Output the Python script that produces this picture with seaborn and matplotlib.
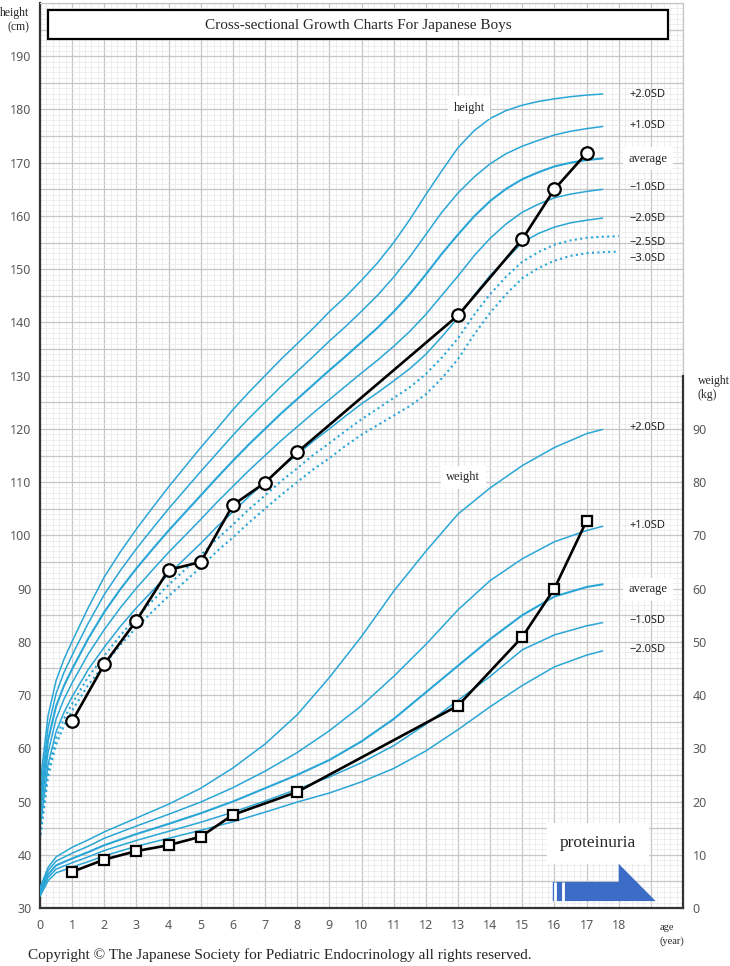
import numpy as np
import pandas as pd
import seaborn as sns
import matplotlib.pyplot as plt
from matplotlib.patches import Polygon, Rectangle
from matplotlib.ticker import FuncFormatter

sns.set_style("white")
plt.rcParams["font.family"] = ["Noto Sans", "DejaVu Sans"]

SERIF = ["Liberation Serif", "DejaVu Serif"]
CURVE = "#2aa6d6"

# reference curves - height (cm)
h_age = [0, 0.25, 0.5, 0.75, 1, 1.5, 2, 2.5, 3, 3.5, 4, 4.5, 5, 5.5, 6, 6.5, 7, 7.5, 8, 8.5,
         9, 9.5, 10, 10.5, 11, 11.5, 12, 12.5, 13, 13.5, 14, 14.5, 15, 15.5, 16, 16.5, 17, 17.5]
h_p2 = [53.2, 66.1, 72.7, 76.8, 80.1, 86.4, 92.2, 96.9, 101.2, 105.2, 109.1, 112.8, 116.5, 120.0,
        123.6, 126.9, 130.0, 133.1, 136.0, 138.9, 142.0, 144.8, 147.9, 151.2, 155.0, 159.3, 164.0,
        168.5, 172.8, 176.0, 178.3, 179.8, 180.8, 181.5, 182.0, 182.4, 182.7, 182.9]
h_p1 = [51.1, 63.8, 70.3, 74.3, 77.5, 83.5, 88.9, 93.4, 97.5, 101.3, 105.0, 108.5, 112.0, 115.4,
        118.8, 122.0, 125.0, 128.0, 130.8, 133.6, 136.5, 139.2, 142.1, 145.1, 148.5, 152.3, 156.5,
        160.7, 164.3, 167.3, 169.8, 171.7, 173.1, 174.2, 175.2, 175.9, 176.4, 176.8]
h_avg = [49.0, 61.5, 67.9, 71.8, 74.9, 80.6, 85.6, 89.9, 93.8, 97.4, 100.9, 104.2, 107.5, 110.8,
         114.0, 117.1, 120.0, 122.9, 125.6, 128.3, 131.0, 133.6, 136.3, 139.0, 142.0, 145.3, 149.0,
         152.9, 156.5, 159.9, 162.8, 165.1, 166.9, 168.2, 169.3, 170.0, 170.5, 170.8]
h_m1 = [46.9, 59.2, 65.5, 69.3, 72.3, 77.7, 82.3, 86.4, 90.1, 93.5, 96.8, 99.9, 103.0, 106.2,
        109.2, 112.2, 115.0, 117.8, 120.4, 123.0, 125.5, 128.0, 130.5, 132.9, 135.5, 138.3, 141.5,
        145.1, 148.7, 152.5, 155.8, 158.5, 160.7, 162.2, 163.4, 164.1, 164.6, 165.0]
h_m2 = [44.8, 56.9, 63.1, 66.8, 69.7, 74.8, 79.0, 82.9, 86.4, 89.6, 92.7, 95.6, 98.5, 101.6,
        104.4, 107.3, 110.0, 112.7, 115.2, 117.7, 120.0, 122.4, 124.7, 126.8, 129.0, 131.3, 134.0,
        137.3, 140.9, 145.1, 148.8, 151.9, 155.0, 156.7, 157.9, 158.7, 159.2, 159.6]

h_age_d = h_age + [18]
h_m25 = [43.8, 55.8, 61.9, 65.6, 68.4, 73.4, 77.4, 81.2, 84.6, 87.7, 90.7, 93.5, 96.3, 99.3,
         102.0, 104.9, 107.5, 110.2, 112.6, 115.1, 117.3, 119.6, 121.8, 123.8, 125.8, 127.8, 130.3,
         133.4, 137.0, 141.4, 145.3, 148.6, 151.4, 153.2, 154.6, 155.4, 155.9, 156.1, 156.2]
h_m3 = [42.7, 54.6, 60.7, 64.3, 67.1, 71.9, 75.7, 79.4, 82.7, 85.7, 88.6, 91.3, 94.0, 97.0,
        99.6, 102.4, 105.0, 107.6, 110.0, 112.4, 114.5, 116.8, 118.9, 120.7, 122.5, 124.3, 126.5,
        129.5, 133.1, 137.7, 141.8, 145.3, 148.3, 150.2, 151.6, 152.5, 153.0, 153.2, 153.3]

# reference curves - weight (kg)
w_age = [0, 0.25, 0.5, 1, 1.5, 2, 3, 4, 5, 6, 7, 8, 9, 10, 11, 12, 13, 14, 15, 16, 17, 17.5]
w_p2 = [3.8, 7.6, 9.6, 11.4, 12.8, 14.3, 16.9, 19.5, 22.5, 26.3, 30.8, 36.3, 43.3, 51.0, 59.5,
        67.0, 74.0, 78.9, 83.1, 86.5, 89.1, 89.9]
w_p1 = [3.4, 7.0, 8.8, 10.3, 11.6, 13.1, 15.4, 17.6, 19.9, 22.6, 25.7, 29.2, 33.3, 38.0, 43.5,
        49.5, 56.0, 61.5, 65.6, 68.8, 70.9, 71.7]
w_avg = [3.0, 6.3, 8.0, 9.3, 10.5, 11.8, 13.9, 15.8, 17.8, 20.0, 22.5, 25.0, 27.8, 31.3, 35.5,
         40.5, 45.5, 50.5, 55.0, 58.5, 60.3, 60.8]
w_m1 = [2.6, 5.7, 7.3, 8.5, 9.6, 10.8, 12.7, 14.4, 16.1, 18.0, 20.1, 22.3, 24.6, 27.3, 30.5,
        34.5, 39.0, 43.5, 48.5, 51.3, 53.0, 53.6]
w_m2 = [2.2, 5.1, 6.6, 7.7, 8.7, 9.8, 11.6, 13.1, 14.6, 16.2, 18.0, 19.9, 21.6, 23.7, 26.2,
        29.5, 33.5, 37.8, 41.8, 45.3, 47.5, 48.3]

# patient measurements
pt_age = [1, 2, 3, 4, 5, 6, 7, 8, 13, 15, 16, 17]
pt_height = [65.1, 75.8, 84.0, 93.5, 95.0, 105.7, 109.9, 115.6, 141.3, 155.6, 165.0, 171.8]
pt_weight = [6.8, 9.1, 10.7, 11.8, 13.4, 17.5, 21.8, 38.0, 50.9, 60.0, 72.7]
pt_w_age = [1, 2, 3, 4, 5, 6, 8, 13, 15, 16, 17]

h_labels = ["+2.0SD", "+1.0SD", "average", "\u22121.0SD", "\u22122.0SD", "\u22122.5SD", "\u22123.0SD"]
h_label_y = [182.9, 176.9, 170.7, 165.3, 159.6, 155.1, 152.0]
w_labels = ["+2.0SD", "+1.0SD", "average", "\u22121.0SD", "\u22122.0SD"]
w_label_y = [90.2, 71.9, 59.9, 54.0, 48.6]

fig = plt.figure(figsize=(7.3, 9.66), dpi=100)
ax = fig.add_axes([40 / 730, 1 - 908 / 966, 643 / 730, 905 / 966])
ax2 = ax.twinx()

ax.set_xlim(0, 20)
ax.set_ylim(30, 200)
ax2.set_ylim(0, 170)

# grid
ax.set_axisbelow(True)
ax.set_xticks(np.arange(0, 21, 1))
ax.set_xticks(np.arange(0, 20.01, 0.2), minor=True)
ax.set_yticks(np.arange(30, 201, 5))
ax.set_yticks(np.arange(30, 201, 1), minor=True)
ax.grid(which="major", color="#c6c6c6", lw=0.9)
ax.grid(which="minor", color="#e7e7e7", lw=0.5)
ax.xaxis.set_major_formatter(FuncFormatter(lambda v, p: f"{int(v)}" if v <= 18 else ""))
ax.yaxis.set_major_formatter(FuncFormatter(lambda v, p: f"{int(v)}" if v % 10 == 0 and v < 200 else ""))
ax.tick_params(which="both", length=0, labelsize=9, labelcolor="#5a5a5a", pad=6)
ax.tick_params(axis="x", pad=8)

for s in ["top", "right"]:
    ax.spines[s].set_color("#c6c6c6")
    ax.spines[s].set_linewidth(0.9)
for s in ["left", "bottom"]:
    ax.spines[s].set_color("#333333")
    ax.spines[s].set_linewidth(1.6)

ax2.set_yticks(np.arange(0, 91, 10))
ax2.tick_params(length=0, labelsize=9, labelcolor="#5a5a5a", pad=7)
for s in ["top", "left", "bottom"]:
    ax2.spines[s].set_visible(False)
ax2.spines["right"].set_bounds(0, 100)
ax2.spines["right"].set_color("#333333")
ax2.spines["right"].set_linewidth(1.6)

# height curves
for vals, lw in [(h_p2, 1.1), (h_p1, 1.1), (h_avg, 1.5), (h_m1, 1.1), (h_m2, 1.1)]:
    sns.lineplot(x=h_age, y=vals, ax=ax, color=CURVE, lw=lw)
for vals in [h_m25, h_m3]:
    sns.lineplot(x=h_age_d, y=vals, ax=ax, color=CURVE, lw=1.5, linestyle=(0, (1, 1.6)))

# weight curves
for vals, lw in [(w_p2, 1.1), (w_p1, 1.1), (w_avg, 1.5), (w_m1, 1.1), (w_m2, 1.1)]:
    sns.lineplot(x=w_age, y=vals, ax=ax2, color=CURVE, lw=lw)

# patient
sns.lineplot(x=pt_age, y=pt_height, ax=ax, color="black", lw=1.9, marker="o", markersize=9,
             markerfacecolor="white", markeredgecolor="black", markeredgewidth=1.6, zorder=5)
sns.lineplot(x=pt_w_age, y=pt_weight, ax=ax2, color="black", lw=1.9, marker="s", markersize=7.5,
             markerfacecolor="white", markeredgecolor="black", markeredgewidth=1.6, zorder=5)

# SD labels
for lab, y in zip(h_labels, h_label_y):
    if lab == "average":
        ax.text(18.9, y, lab, ha="center", va="center", fontsize=9, family=SERIF, color="#222222",
                bbox=dict(facecolor="white", edgecolor="none", pad=4))
    else:
        ax.text(18.9, y, lab, ha="center", va="center", fontsize=8, color="#222222")
for lab, y in zip(w_labels, w_label_y):
    if lab == "average":
        ax2.text(18.9, y, lab, ha="center", va="center", fontsize=9, family=SERIF, color="#222222",
                 bbox=dict(facecolor="white", edgecolor="none", pad=4))
    else:
        ax2.text(18.9, y, lab, ha="center", va="center", fontsize=8, color="#222222")

ax.text(13.35, 180.3, "height", ha="center", va="center", fontsize=9, family=SERIF,
        bbox=dict(facecolor="white", edgecolor="none", pad=4))
ax2.text(13.16, 80.9, "weight", ha="center", va="center", fontsize=9, family=SERIF,
         bbox=dict(facecolor="white", edgecolor="none", pad=4))

# proteinuria arrow
arrow = Polygon([(15.95, 1.3), (19.15, 1.3), (18.0, 8.3), (18.0, 4.9), (15.95, 4.9)],
                closed=True, facecolor="#3d6cc6", edgecolor="none", zorder=4)
ax2.add_patch(arrow)
ax2.vlines([16.02, 16.27], 1.3, 4.9, color="white", lw=2, zorder=4.5)
ax2.text(17.36, 12.2, "proteinuria", ha="center", va="center", fontsize=12.5, family=SERIF,
         bbox=dict(facecolor="white", edgecolor="none", pad=9), zorder=4)

# title box
fig.patches.append(Rectangle((48 / 730, 1 - 39 / 966), 620 / 730, 29 / 966, transform=fig.transFigure,
                             facecolor="white", edgecolor="black", lw=1.6, zorder=3))
fig.text(358 / 730, 1 - 25 / 966, "Cross-sectional Growth Charts For Japanese Boys", ha="center",
         va="center", fontsize=11, family=SERIF, zorder=4)

# axis captions
fig.text(15 / 730, 1 - 13 / 966, "height", ha="center", va="center", fontsize=8.5, family=SERIF)
fig.text(18 / 730, 1 - 27 / 966, "(cm)", ha="center", va="center", fontsize=8.5, family=SERIF)
fig.text(698 / 730, 1 - 381 / 966, "weight", ha="left", va="center", fontsize=8.5, family=SERIF)
fig.text(698 / 730, 1 - 395 / 966, "(kg)", ha="left", va="center", fontsize=8.5, family=SERIF)
fig.text(660 / 730, 1 - 928 / 966, "age", ha="left", va="center", fontsize=7.5, family=SERIF)
fig.text(659 / 730, 1 - 941 / 966, "(year)", ha="left", va="center", fontsize=7.5, family=SERIF)

fig.text(28 / 730, 1 - 955 / 966,
         "Copyright \u00a9 The Japanese Society for Pediatric Endocrinology all rights reserved.",
         ha="left", va="center", fontsize=11, family=SERIF)

fig.savefig("out.png", dpi=100, facecolor="white")
